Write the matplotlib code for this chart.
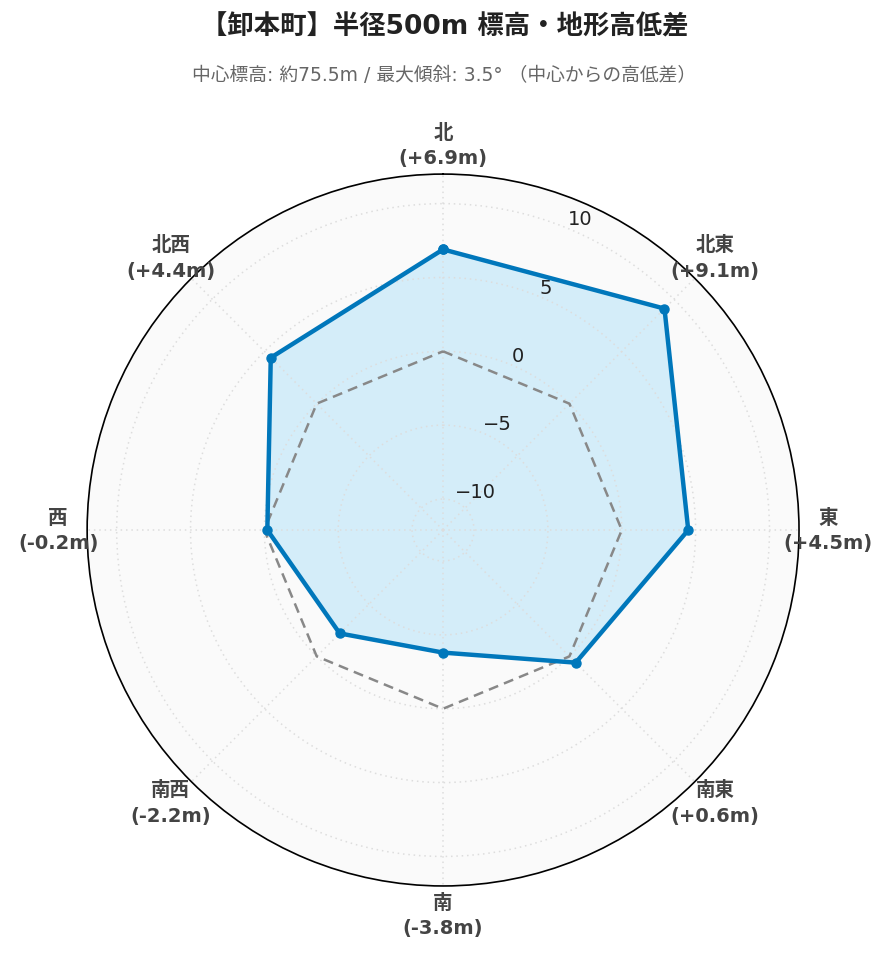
import numpy as np
import matplotlib
matplotlib.use("Agg")
import matplotlib.pyplot as plt

plt.rcParams['font.family'] = ['DejaVu Sans', 'Noto Sans CJK JP']

directions = ['北', '北東', '東', '南東', '南', '南西', '西', '北西']
diffs = [6.9, 9.1, 4.5, 0.6, -3.8, -2.2, -0.2, 4.4]
baseline = [0, 0, 0, 0, 0, 0, 0, 0]
r_ticks = [-10, -5, 0, 5, 10]
title = '【卸本町】半径500m 標高・地形高低差'
subtitle = '中心標高: 約75.5m / 最大傾斜: 3.5° （中心からの高低差）'

theta = np.deg2rad(np.arange(len(directions)) * 45)
theta_c = np.append(theta, theta[0])
vals_c = np.append(diffs, diffs[0])
base_c = np.append(baseline, baseline[0])

fig = plt.figure(figsize=(8.89, 9.62), dpi=100)
ax = fig.add_axes([0.0979, 0.078, 0.801, 0.740], projection='polar')
ax.set_theta_zero_location('N')
ax.set_theta_direction(-1)
ax.set_facecolor('#fafafa')
ax.set_ylim(-12.1, 12.0)

ax.fill(theta_c, vals_c, color='#d4edf9', zorder=1)
ax.plot(theta_c, base_c, color='#888888', lw=1.8, ls=(0, (4, 2.5)), zorder=3)
ax.plot(theta_c, vals_c, color='#0077bb', lw=3.2, marker='o', ms=6.5, zorder=4)

ax.set_xticks(theta)
ax.set_xticklabels([])
ax.set_yticks(r_ticks)
ax.set_yticklabels([f'{t}'.replace('-', '\u2212') for t in r_ticks], fontsize=14, color='#222222')
ax.set_rlabel_position(22.5)
ax.grid(True, color='#dddddd', ls=(0, (1, 2.5)), lw=1.1, zorder=2)
ax.set_axisbelow(False)
ax.spines['polar'].set_color('black')
ax.spines['polar'].set_linewidth(1.2)

for t, name, d in zip(theta, directions, diffs):
    rr = 385 / 356 * 0.5
    x = 0.5 + rr * np.sin(t)
    y = 0.5 + rr * np.cos(t)
    ax.text(x, y, f'{name}\n({d:+.1f}m)', transform=ax.transAxes, ha='center', va='center',
            fontsize=14, fontweight='bold', color='#444444', linespacing=1.45, clip_on=False)

fig.text(0.5, 0.971, title, ha='center', va='center', fontsize=19, fontweight='bold', color='#222222')
fig.text(0.5, 0.921, subtitle, ha='center', va='center', fontsize=13.5, color='#666666')

fig.savefig('out.png', dpi=100)
